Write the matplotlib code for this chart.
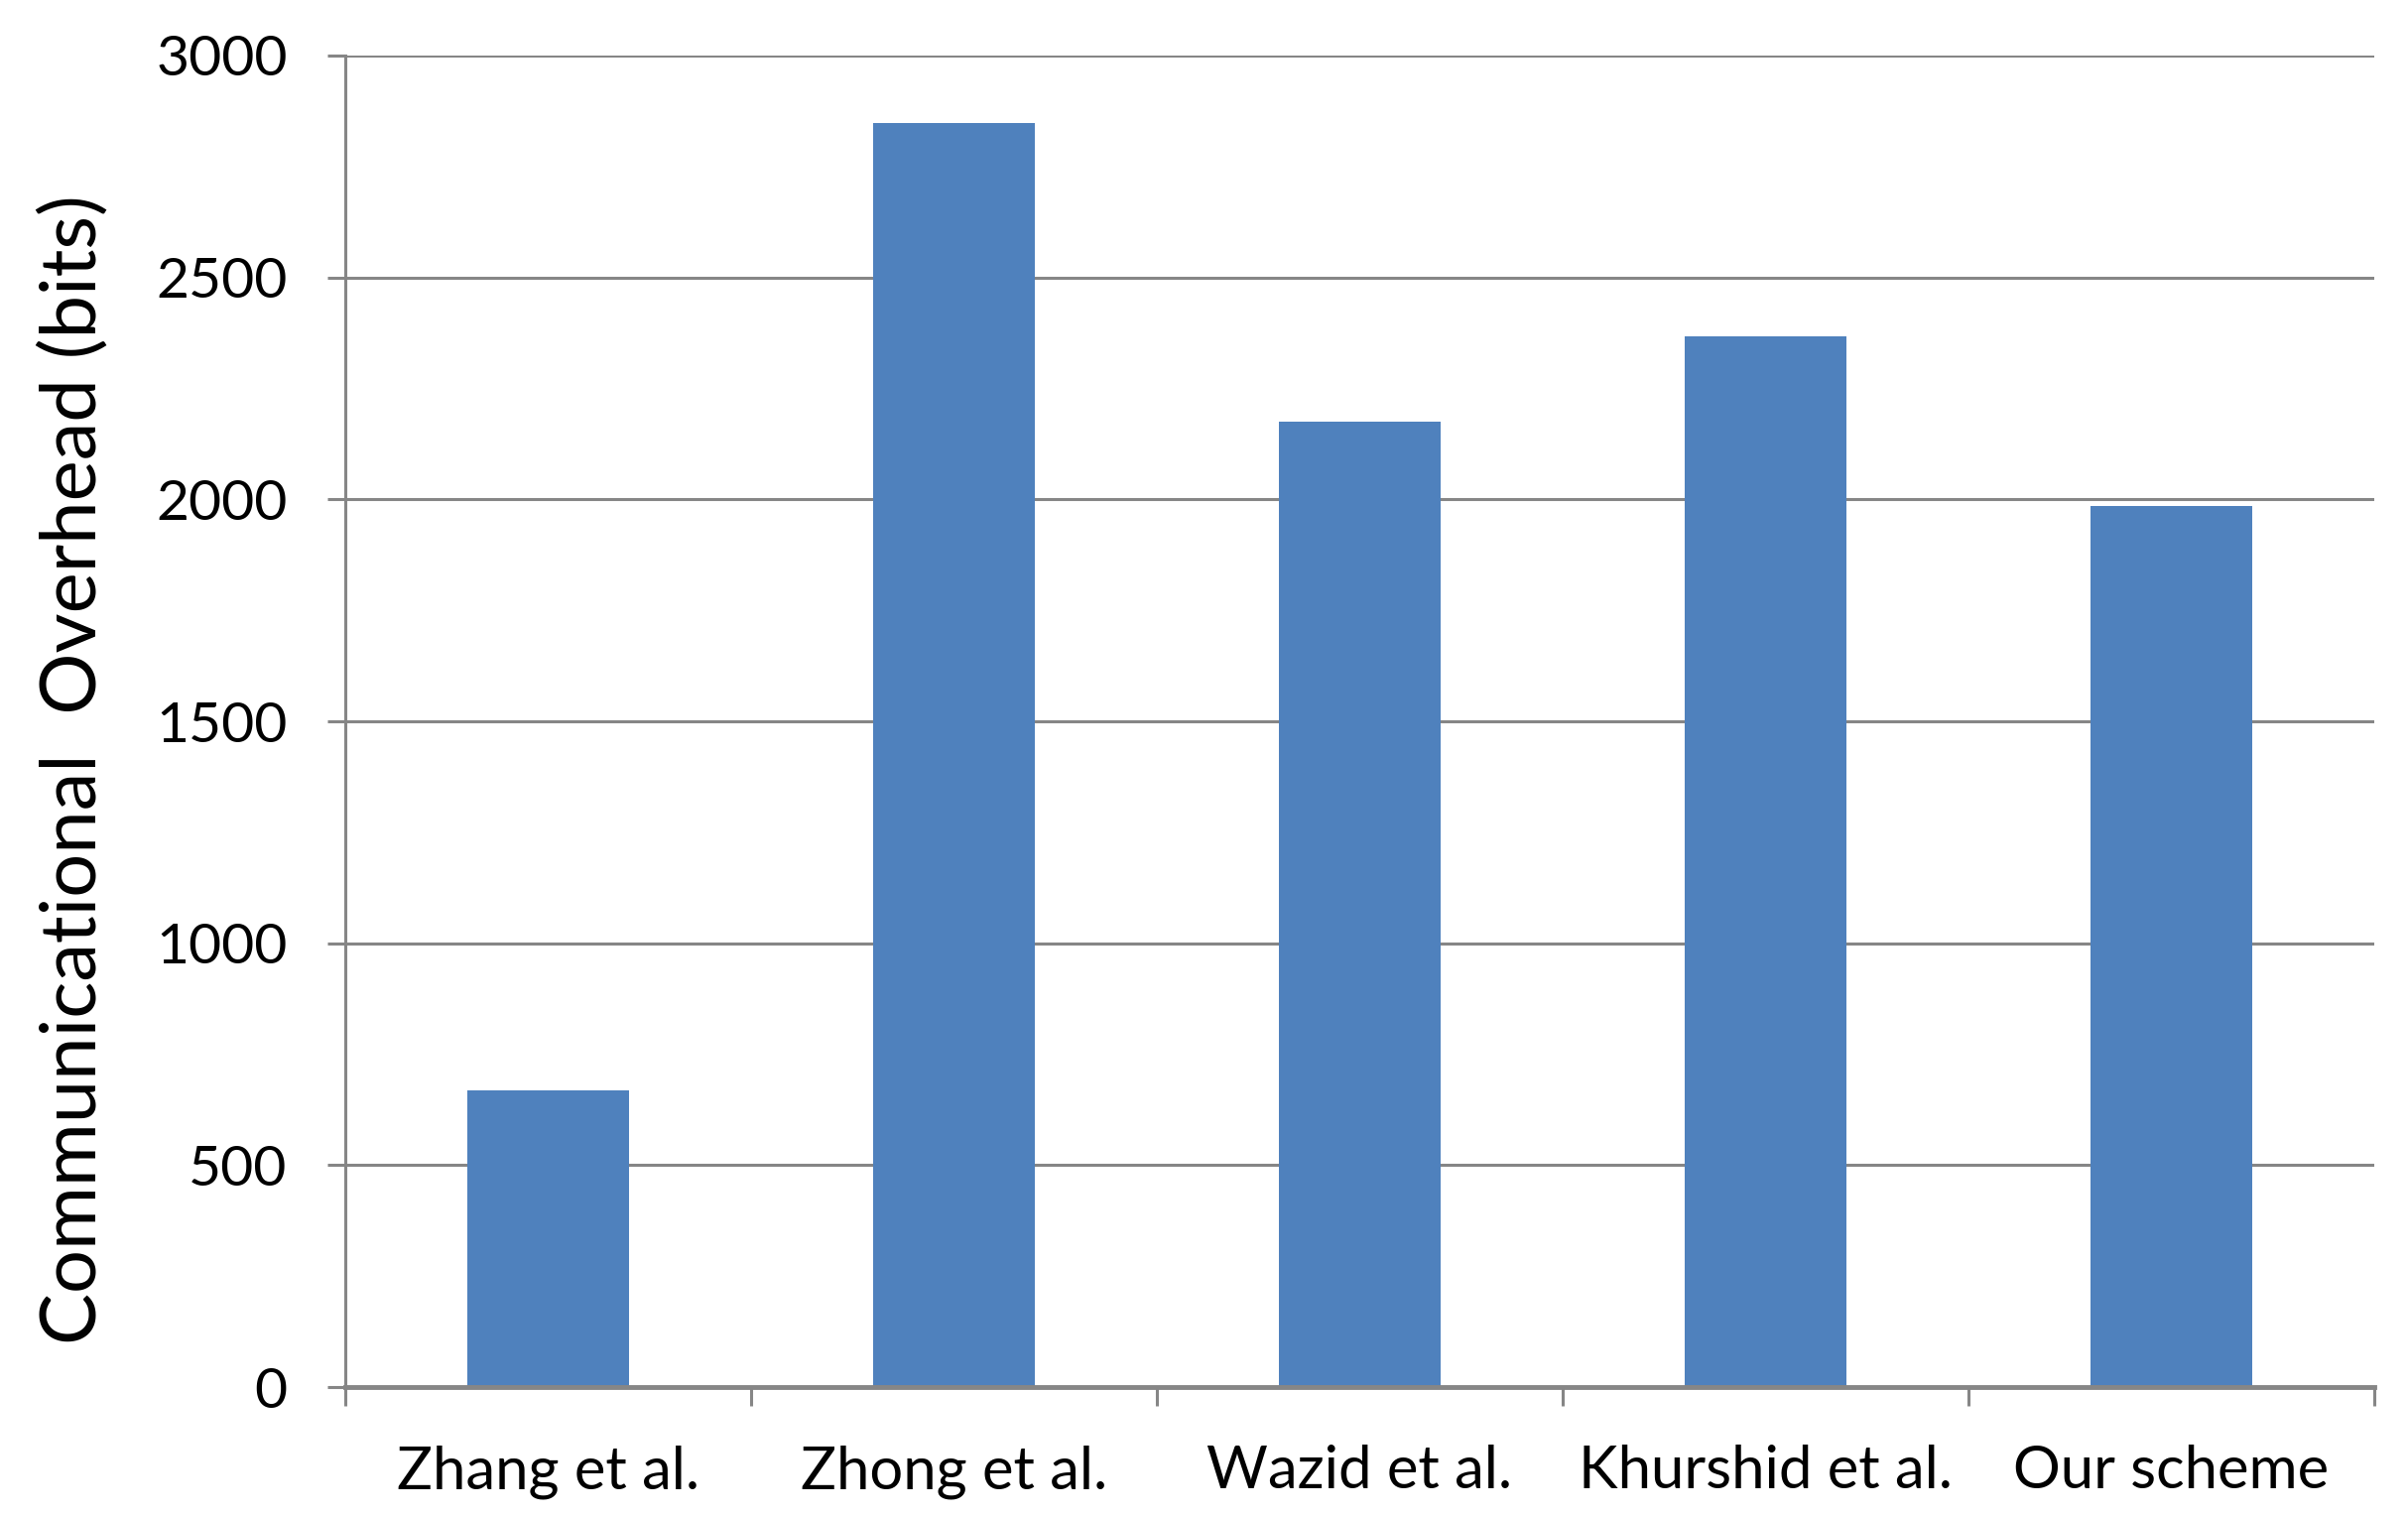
import numpy as np
import matplotlib
matplotlib.use('Agg')
import matplotlib.pyplot as plt
from matplotlib.ticker import FixedLocator

plt.rcParams['font.family'] = ['Lato', 'DejaVu Sans']

schemes = ['Zhang et al.', 'Zhong et al.', 'Wazid et al.', 'Khurshid et al.', 'Our scheme']
overhead_bits = [668, 2848, 2176, 2368, 1984]
y_ticks = [0, 500, 1000, 1500, 2000, 2500, 3000]

grid_col = '#868686'
bar_col = '#4F81BD'

fig = plt.figure(figsize=(24.27, 15.28), dpi=100)
ax = fig.add_axes([0.1434, 0.085, 0.8426, 0.8784])

x = np.arange(len(schemes))
ax.bar(x, overhead_bits, width=0.4, color=bar_col, zorder=3)

ax.set_xlim(-0.5, len(schemes) - 0.5)
ax.set_ylim(0, 3000)
ax.set_yticks(y_ticks)
ax.set_yticklabels([str(v) for v in y_ticks], fontsize=41)
ax.yaxis.grid(True, color=grid_col, linewidth=2.2, zorder=1)

# category labels sit between the boundary ticks, like in excel
ax.set_xticks(x)
ax.set_xticklabels(schemes, fontsize=43)
ax.tick_params(axis='x', which='major', length=0, pad=42)
ax.xaxis.set_minor_locator(FixedLocator(np.arange(-0.5, len(schemes), 1.0)))
ax.tick_params(axis='x', which='minor', length=14, width=2.2, color=grid_col)
ax.tick_params(axis='y', length=13, width=2.2, color=grid_col, pad=29)

for s in ['top', 'right']:
    ax.spines[s].set_visible(False)
ax.spines['left'].set_color(grid_col)
ax.spines['left'].set_linewidth(2.2)
ax.spines['bottom'].set_color(grid_col)
ax.spines['bottom'].set_linewidth(3.5)
ax.spines['bottom'].set_zorder(4)

ax.set_ylabel('Communicational  Overhead (bits)', fontsize=56)
ax.yaxis.set_label_coords(-0.116, 0.4635)

fig.savefig('out.png', dpi=100, facecolor='white')
